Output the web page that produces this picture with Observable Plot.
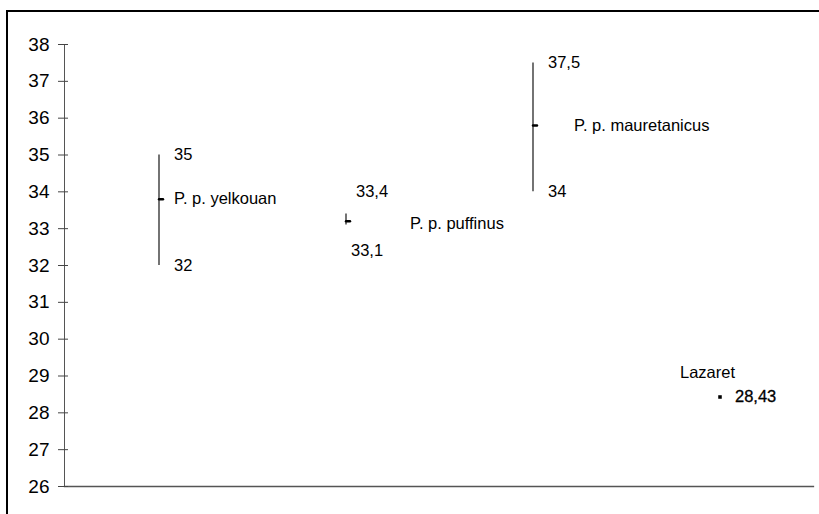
<!DOCTYPE html>
<html>
<head>
<meta charset="utf-8">
<script src="https://cdn.jsdelivr.net/npm/d3@7"></script>
<script src="https://cdn.jsdelivr.net/npm/@observablehq/plot@0.6"></script>
<style>
  html, body { margin: 0; padding: 0; background: #fff; overflow: hidden; width: 819px; height: 514px; }
  #border { position: absolute; left: 6px; top: 10px; width: 900px; height: 700px; border: 2px solid #000; box-sizing: border-box; pointer-events: none; }
  #chart { position: absolute; left: 0; top: 0; }
</style>
</head>
<body>
<div id="chart"></div>
<div id="border"></div>
<script>
const categories = ["P. p. yelkouan", "P. p. puffinus", "P. p. mauretanicus", "Lazaret"];
const lows  = [32, 33.1, 34, null];
const highs = [35, 33.4, 37.5, null];
const means = [33.8, 33.2, 35.8, 28.43];
const lowLabels  = ["32", "33,1", "34", null];
const highLabels = ["35", "33,4", "37,5", null];
const meanLabels = [null, null, null, "28,43"];
const yTicks = d3.range(26, 39);

const data = categories.map((c, i) => ({
  cat: c, low: lows[i], high: highs[i], mean: means[i],
  lowLabel: lowLabels[i], highLabel: highLabels[i], meanLabel: meanLabels[i]
}));
const ranged = data.filter(d => d.low != null);
const byIdx = i => [data[i]];

const tickShape = { draw(context, l) { context.moveTo(0, 0); context.lineTo(0, -l); } };
const font = 16.5;

const chart = Plot.plot({
  width: 819,
  height: 514,
  marginLeft: 64,
  marginRight: 6,
  marginTop: 44,
  marginBottom: 28,
  style: { fontFamily: "'Liberation Sans', Arial, sans-serif", color: "#000", background: "transparent" },
  x: { type: "band", domain: categories, padding: 0, axis: null },
  y: { domain: [26, 38], axis: null },
  marks: [
    Plot.frame({ anchor: "left", stroke: "#555" }),
    Plot.frame({ anchor: "bottom", stroke: "#555", strokeWidth: 1.3 }),
    Plot.axisY({ ticks: yTicks, tickSize: 10, dx: 4, stroke: "#444", tickFormat: () => "" }),
    Plot.axisY({ ticks: yTicks, tickSize: 0, tickPadding: 15, fontSize: 19, fill: "#000", tickFormat: d => String(d) }),
    Plot.ruleX(ranged, { x: "cat", y1: "low", y2: "high", stroke: "#000", strokeWidth: 1.1 }),
    Plot.vector(ranged, { x: "cat", y: "mean", length: 4, rotate: 90, anchor: "start", shape: tickShape, stroke: "#000", strokeWidth: 2.4 }),
    Plot.dot(byIdx(3), { x: "cat", y: "mean", symbol: "square", r: 2, fill: "#000", stroke: null }),
    // high / low value labels
    Plot.text([data[0], data[2]], { x: "cat", y: "high", text: "highLabel", dx: 15, textAnchor: "start", fontSize: font, fill: "#000" }),
    Plot.text([data[0], data[2]], { x: "cat", y: "low", text: "lowLabel", dx: 15, textAnchor: "start", fontSize: font, fill: "#000" }),
    Plot.text(byIdx(1), { x: "cat", y: "high", text: "highLabel", dx: 10, dy: -22, textAnchor: "start", fontSize: font, fill: "#000" }),
    Plot.text(byIdx(1), { x: "cat", y: "low", text: "lowLabel", dx: 5, dy: 26, textAnchor: "start", fontSize: font, fill: "#000" }),
    // category name labels
    Plot.text(byIdx(0), { x: "cat", y: "mean", text: "cat", dx: 15, textAnchor: "start", fontSize: font, fill: "#000" }),
    Plot.text(byIdx(1), { x: "cat", y: "mean", text: "cat", dx: 64, dy: 2, textAnchor: "start", fontSize: font, fill: "#000" }),
    Plot.text(byIdx(2), { x: "cat", y: "mean", text: "cat", dx: 41, textAnchor: "start", fontSize: font, fill: "#000" }),
    Plot.text(byIdx(3), { x: "cat", y: "mean", text: "cat", dx: -40, dy: -24, textAnchor: "start", fontSize: font, fill: "#000" }),
    Plot.text(byIdx(3), { x: "cat", y: "mean", text: "meanLabel", dx: 15, textAnchor: "start", fontSize: font, fill: "#000", stroke: "#000", strokeWidth: 0.3 })
  ]
});
document.getElementById("chart").appendChild(chart);
</script>
</body>
</html>
